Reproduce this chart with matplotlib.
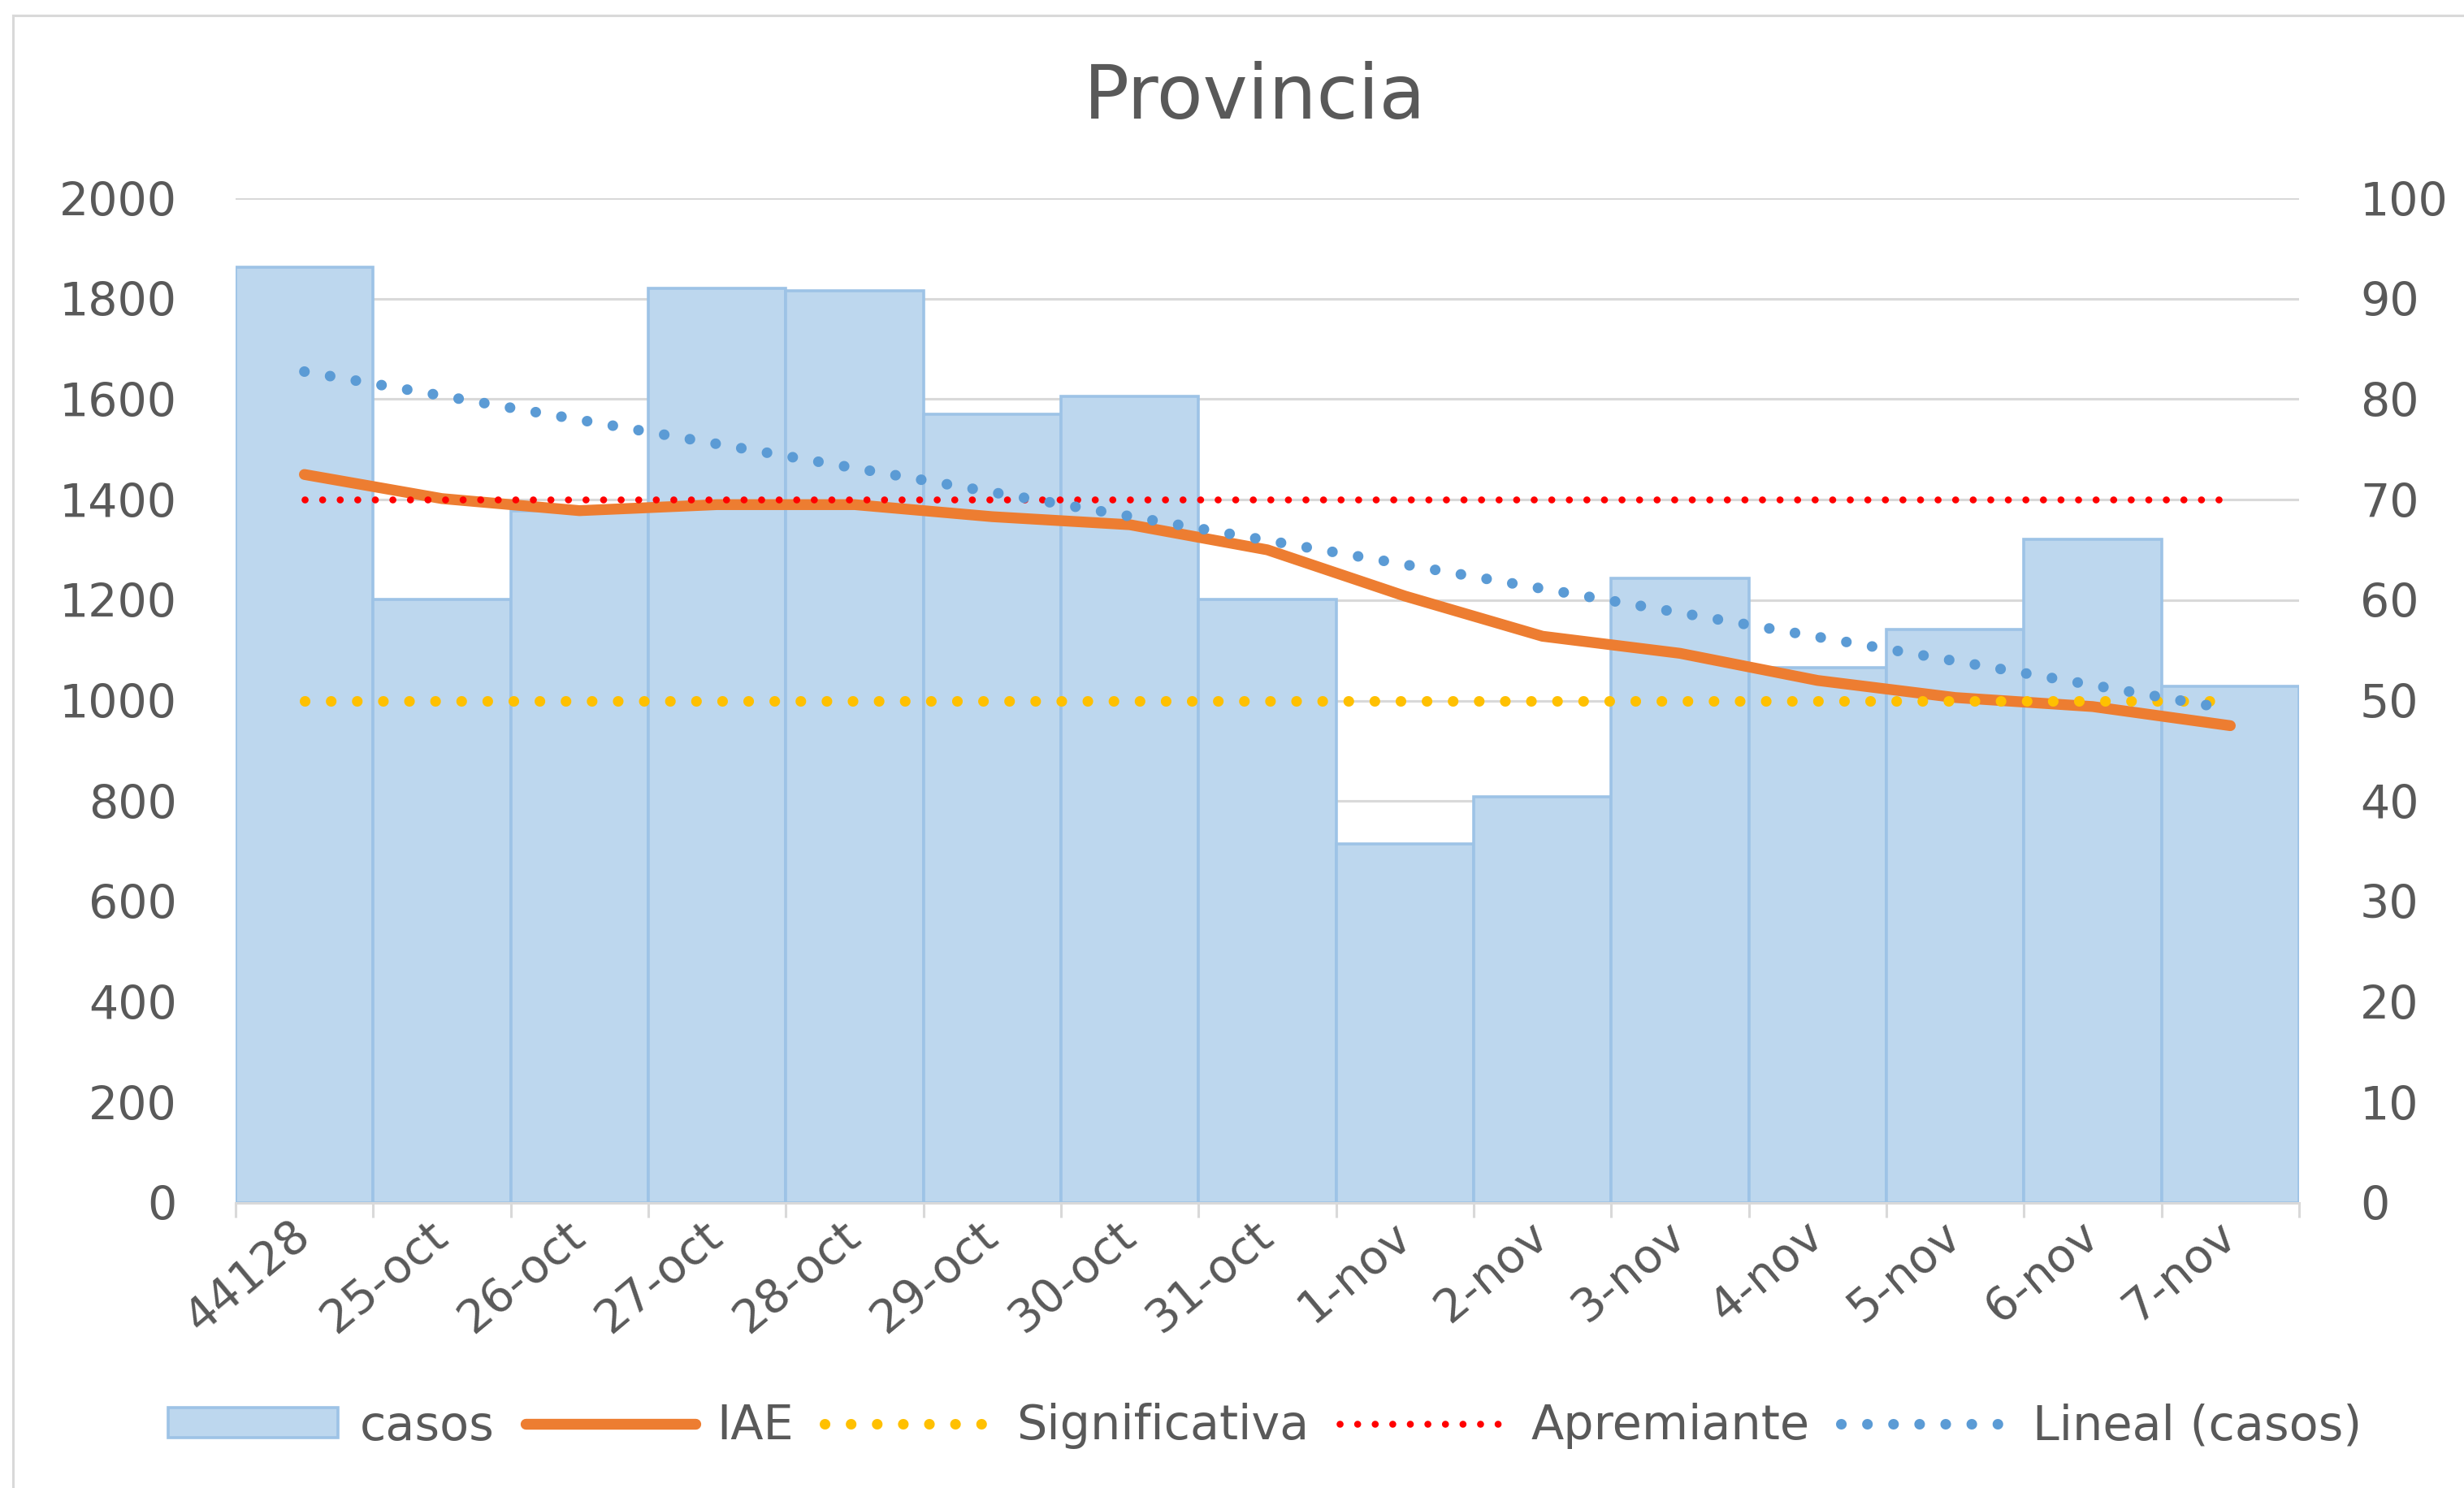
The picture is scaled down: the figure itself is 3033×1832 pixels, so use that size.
import numpy as np
import matplotlib
matplotlib.use("Agg")
import matplotlib.pyplot as plt
from matplotlib.lines import Line2D
from matplotlib.patches import Patch

# ---- data ----
fechas = ["44128", "25-oct", "26-oct", "27-oct", "28-oct", "29-oct", "30-oct", "31-oct",
          "1-nov", "2-nov", "3-nov", "4-nov", "5-nov", "6-nov", "7-nov"]
casos = [1862, 1202, 1378, 1821, 1815, 1570, 1606, 1202, 714, 809, 1244, 1066, 1142, 1321, 1029]
iae = [72.5, 70.1, 68.9, 69.5, 69.5, 68.3, 67.5, 65.0, 60.4, 56.4, 54.7, 52.0, 50.3, 49.4, 47.5]
significativa = [50] * len(fechas)
apremiante = [70] * len(fechas)
left_ticks = [0, 200, 400, 600, 800, 1000, 1200, 1400, 1600, 1800, 2000]
right_ticks = [0, 10, 20, 30, 40, 50, 60, 70, 80, 90, 100]

TXT = "#595959"
GRID = "#D9D9D9"

fig = plt.figure(figsize=(3033 / 200, 1832 / 200), dpi=200)
ax = fig.add_axes([290 / 3033, 1 - 1481 / 1832, (2830 - 290) / 3033, (1481 - 244) / 1832])
ax2 = ax.twinx()

x = np.arange(len(fechas))

bars = ax.bar(x, casos, width=1.0, color="#BDD7EE", edgecolor="#9DC3E6", linewidth=1.3, zorder=2)

# trend line of casos (Excel linear trendline)
coef = np.polyfit(x, casos, 1)
trend = np.polyval(coef, x)

SIG_LS = (0, (0.01, 2.45))
APR_LS = (0, (0.01, 2.5))
LIN_LS = (0, (0.01, 2.45))

l_iae, = ax2.plot(x, iae, color="#ED7D31", lw=4.8, solid_capstyle="round", solid_joinstyle="round", zorder=3)
l_sig, = ax2.plot(x, significativa, color="#FFC000", lw=4.7, linestyle=SIG_LS,
                  dash_capstyle="round", zorder=4)
l_apr, = ax2.plot(x, apremiante, color="#FF0000", lw=3.1, linestyle=APR_LS,
                  dash_capstyle="round", zorder=5)
l_lin, = ax2.plot(x, trend, color="#5B9BD5", lw=4.7, linestyle=LIN_LS,
                  dash_capstyle="round", transform=ax.transData, zorder=6)

ax.set_xlim(-0.5, len(fechas) - 0.5)
ax.set_ylim(0, 2000)
ax2.set_ylim(0, 100)
ax.set_yticks(left_ticks)
ax2.set_yticks(right_ticks)
ax.yaxis.grid(True, color=GRID, lw=1.1, zorder=0)
ax.set_axisbelow(True)

for a in (ax, ax2):
    for s in ("left", "right", "top"):
        a.spines[s].set_visible(False)
    a.spines["bottom"].set_color(GRID)
    a.spines["bottom"].set_linewidth(1.1)
ax2.spines["bottom"].set_visible(False)

ax.tick_params(axis="y", length=0, pad=26, labelsize=20.5, labelcolor=TXT)
ax2.tick_params(axis="y", length=0, pad=27, labelsize=20.5, labelcolor=TXT)

# tick marks at category boundaries, labels at centers
ax.set_xticks(np.arange(len(fechas) + 1) - 0.5)
ax.set_xticklabels([])
ax.tick_params(axis="x", which="major", length=6.5, width=1.1, color=GRID, direction="out")
ax.set_xticks(x, fechas, minor=True)
ax.tick_params(axis="x", which="minor", length=0, pad=12, labelsize=20.5, labelcolor=TXT)
for lab in ax.get_xticklabels(minor=True):
    lab.set_rotation(40)
    lab.set_ha("right")
    lab.set_va("center")
    lab.set_rotation_mode("anchor")

fig.text(1545 / 3033, 1 - 120 / 1832, "Provincia", ha="center", va="center", fontsize=33.5, color=TXT)

handles = [Patch(facecolor="#BDD7EE", edgecolor="#9DC3E6", linewidth=1.3),
           Line2D([], [], color="#ED7D31", lw=4.8, solid_capstyle="round"),
           Line2D([], [], color="#FFC000", lw=4.7, linestyle=SIG_LS, dash_capstyle="round"),
           Line2D([], [], color="#FF0000", lw=3.1, linestyle=APR_LS, dash_capstyle="round"),
           Line2D([], [], color="#5B9BD5", lw=4.7, linestyle=LIN_LS, dash_capstyle="round")]
labels = ["casos", "IAE", "Significativa", "Apremiante", "Lineal (casos)"]
leg = fig.legend(handles, labels, loc="center", bbox_to_anchor=(1557 / 3033, 1 - 1756 / 1832),
                 ncol=5, frameon=False, fontsize=21.2, handlelength=3.55, handleheight=0.6,
                 handletextpad=0.45, columnspacing=0.65, labelcolor=TXT)

# outer chart border (left and top visible)
fig.add_artist(Line2D([16 / 3033, 16 / 3033], [0, 1 - 19 / 1832], color=GRID, lw=1.1,
                      transform=fig.transFigure))
fig.add_artist(Line2D([16 / 3033, 1], [1 - 19 / 1832, 1 - 19 / 1832], color=GRID, lw=1.1,
                      transform=fig.transFigure))

fig.savefig("out.png", dpi=200, facecolor="white")
